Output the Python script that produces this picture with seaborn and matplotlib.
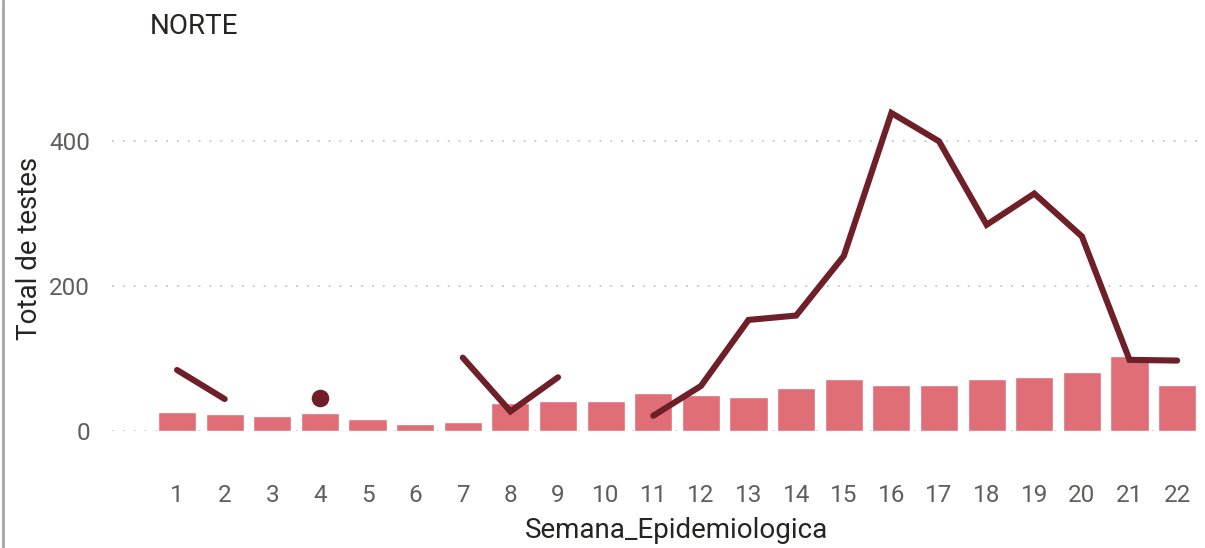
import numpy as np
import pandas as pd
import seaborn as sns
import matplotlib.pyplot as plt
from matplotlib.lines import Line2D

sns.set_theme(style="white")
plt.rcParams["font.family"] = ["Roboto", "DejaVu Sans"]

# data ------------------------------------------------------------------------
semanas = list(range(1, 23))
testes_barras = [26, 24, 20, 25, 16, 9, 12, 39, 42, 42, 52, 50, 47, 59,
                 72, 64, 64, 71, 75, 81, 103, 64]
testes_linha = [84, 44, np.nan, 46, np.nan, np.nan, 101, 27, 74, np.nan, 21, 62,
                153, 159, 241, 438, 399, 284, 327, 268, 98, 97]

BAR_COLOR = "#DF6E76"
LINE_COLOR = "#6E1F27"
TICK_COLOR = "#605E5C"
TEXT_COLOR = "#252423"

df = pd.DataFrame({"semana": semanas, "barras": testes_barras, "linha": testes_linha})
# ids de segmento para manter as lacunas da linha
df["seg"] = df["linha"].isna().cumsum()
lin = df.dropna(subset=["linha"]).copy()
seg_size = lin.groupby("seg")["semana"].transform("size")
isolados = lin[seg_size == 1]
linhas = lin[seg_size > 1]

fig = plt.figure(figsize=(12.05, 5.48), dpi=100)
ax = fig.add_axes([112 / 1205, 117 / 548, 1088 / 1205, 334 / 548])

sns.barplot(data=df, x="semana", y="barras", native_scale=True, width=0.8,
            color=BAR_COLOR, saturation=1, ax=ax, zorder=2)
sns.lineplot(data=linhas, x="semana", y="linha", units="seg", estimator=None,
             color=LINE_COLOR, lw=4.4, solid_capstyle="round",
             solid_joinstyle="miter", ax=ax, zorder=3)
sns.scatterplot(data=isolados, x="semana", y="linha", color=LINE_COLOR,
                s=160, linewidth=0, ax=ax, zorder=3)

ax.set_xlim(-0.366, 22.48)
ax.set_ylim(0, 460)
ax.set_xticks(semanas)
ax.set_yticks([0, 200, 400])
ax.tick_params(axis="x", length=0, pad=38, labelsize=17.5, labelcolor=TICK_COLOR)
ax.tick_params(axis="y", length=0, pad=16, labelsize=17.5, labelcolor=TICK_COLOR)
ax.grid(axis="y", color="#C8C6C4", ls=(0, (1, 5)), lw=1.3, zorder=0)
ax.grid(axis="x", visible=False)
for s in ax.spines.values():
    s.set_visible(False)

ax.set_xlabel("Semana_Epidemiologica", fontsize=20, color=TEXT_COLOR,
              va="center", ha="center")
ax.xaxis.set_label_coords((676 - 112) / 1088, -(530 - 431) / 334)
ax.set_ylabel("Total de testes", fontsize=20, color=TEXT_COLOR,
              va="center", ha="center")
ax.yaxis.set_label_coords((30 - 112) / 1088, (431 - 248) / 334)

fig.text(150 / 1205, 1 - 27 / 548, "NORTE", fontsize=20, color=TEXT_COLOR,
         va="center", ha="left")
fig.add_artist(Line2D([2.5 / 1205, 2.5 / 1205], [0, 1], color="#A6A6A6", lw=2))

fig.savefig("out.png", dpi=100)
